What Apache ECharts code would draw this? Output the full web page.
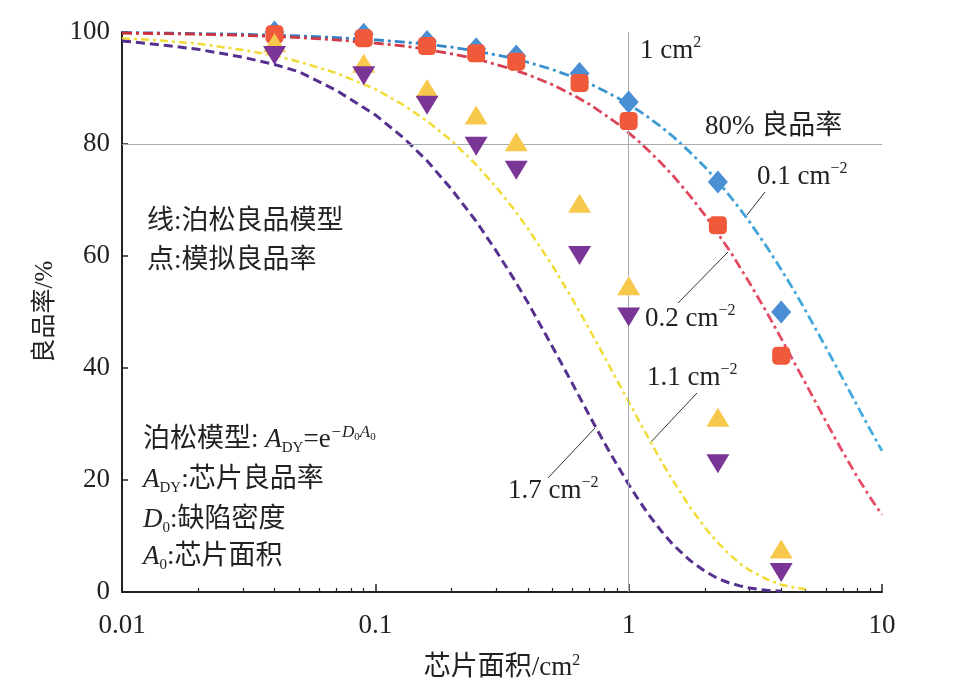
<!DOCTYPE html>
<html><head><meta charset="utf-8">
<script src="https://cdn.jsdelivr.net/npm/echarts@6/dist/echarts.min.js"></script>
<style>html,body{margin:0;padding:0;background:#fff}#c{width:954px;height:700px}</style>
</head><body><div id="c"></div>
<script>
// ---- data ----
const xTickValues = [0.01, 0.1, 1, 10];
const xTickLabels = ['0.01', '0.1', '1', '10'];
const yTickValues = [0, 20, 40, 60, 80, 100];
const minorTickValues = [0.02,0.03,0.04,0.05,0.06,0.07,0.08,0.09,0.2,0.3,0.4,0.5,0.6,0.7,0.8,0.9,2,3,4,5,6,7,8,9];

// Poisson model curves
const curveX = [0.01,0.015,0.02,0.03,0.04,0.05,0.07,0.1,0.13,0.16,0.2,0.25,0.3,0.35,0.4,0.5,0.6,0.7,0.8,0.9,1,1.1,1.2,1.35,1.5,1.75,2,2.25,2.5,2.75,3,3.5,4,4.5,5,6,7,8,9,10];
const curve01 = [99.9,99.8,99.7,99.6,99.4,99.3,99.0,98.6,98.2,97.8,97.3,96.6,95.9,95.3,94.6,93.3,92.0,90.8,89.5,88.3,87.1,85.9,84.7,83.0,81.3,78.5,75.9,73.3,70.8,68.4,66.1,61.7,57.6,53.8,50.2,43.7,38.1,33.2,28.9,25.2];
const curve02 = [99.8,99.7,99.6,99.4,99.2,99.0,98.6,98.0,97.5,96.9,96.1,95.2,94.2,93.3,92.4,90.6,88.8,87.1,85.3,83.7,82.0,80.4,78.8,76.5,74.3,70.7,67.3,64.0,61.0,58.0,55.2,50.0,45.3,41.0,37.2,30.5,25.0,20.5,16.8,13.8];
const curve11 = [98.9,98.4,97.9,96.8,95.8,94.7,92.7,89.8,86.9,84.1,80.6,76.3,72.3,68.5,64.9,58.3,52.3,46.9,42.1,37.8,34.0,30.5,27.4,23.2,19.8,15.1,11.5,8.8,6.7,5.1,3.9,2.3,1.3,0.8,0.5,null,null,null,null,null];
const curve17 = [98.4,97.6,96.9,95.5,94.2,92.9,89.6,85.2,81.0,77.0,71.9,66.2,60.9,56.1,51.7,43.8,37.2,31.5,26.7,22.7,19.2,16.3,13.8,10.8,8.4,5.6,3.7,2.4,1.6,1.1,0.7,0.3,0.15,null,null,null,null,null,null,null];

// simulated yield points
const pointX = [0.04,0.09,0.16,0.25,0.36,0.64,1,2.25,4];
const sim01 = [100,99.6,98.3,97.0,95.7,92.6,87.5,73.2,50.0];
const sim02 = [99.6,98.9,97.5,96.2,94.7,90.9,84.1,65.5,42.2];
const sim11 = [98.1,94.4,89.9,85.2,80.4,69.4,54.7,31.2,7.7];
const sim17 = [95.8,92.2,86.9,79.6,75.3,60.1,49.1,22.9,3.5];

const refYield = 80;
const refArea = 1;

// ---- chart ----
const SERIF = "'Liberation Serif','Times New Roman','Noto Sans CJK SC',serif";
const MIX = "'Liberation Serif','Noto Sans CJK SC',serif";
const TXT = '#222';
const zip = (xs, ys) => xs.map((x, i) => [x, ys[i]]).filter(p => p[1] !== null);

function lineSeries(name, ys, color, width, dash) {
  return {
    name, type: 'line', data: zip(curveX, ys), showSymbol: false, symbol: 'none',
    smooth: false, z: 2, silent: true,
    lineStyle: { color, width, type: dash, cap: 'butt', join: 'round' }
  };
}
function pointSeries(name, ys, symbol, size, color, rotate) {
  return {
    name, type: 'scatter', data: zip(pointX, ys), symbol, symbolSize: size,
    symbolRotate: rotate || 0, z: 5, itemStyle: { color, opacity: 1 }
  };
}

function txt(x, y, text) {
  return {
    type: 'text', x, y, silent: true, z: 10,
    style: {
      text, fill: TXT, fontFamily: MIX, fontSize: 27, lineHeight: 32, verticalAlign: 'middle', align: 'left',
      rich: {
        sup: { fontFamily: SERIF, fontSize: 16, verticalAlign: 'top', lineHeight: 12, fill: TXT },
        i: { fontFamily: SERIF, fontStyle: 'italic', fontSize: 27, lineHeight: 32, fill: TXT },
        sub: { fontFamily: SERIF, fontSize: 15, verticalAlign: 'bottom', lineHeight: 14, fill: TXT },
        si: { fontFamily: SERIF, fontStyle: 'italic', fontSize: 17, verticalAlign: 'top', lineHeight: 12, fill: TXT },
        ss: { fontFamily: SERIF, fontSize: 11, verticalAlign: 'top', lineHeight: 12, padding: [8, 0, 0, 0], fill: TXT }
      }
    }
  };
}

const chart = echarts.init(document.getElementById('c'), null, { renderer: 'canvas' });

const supRich = { sup: { fontFamily: SERIF, fontSize: 16, verticalAlign: 'top', lineHeight: 14, color: TXT } };

const option = {
  backgroundColor: '#fff',
  animation: false,
  grid: { left: 122, right: 72, top: 32, bottom: 108, containLabel: false, outerBoundsMode: 'none' },
  xAxis: [{
    type: 'log', logBase: 10, min: 0.01, max: 10,
    name: '芯片面积/cm{sup|2}', nameLocation: 'middle', nameGap: 61,
    nameTextStyle: { fontFamily: MIX, fontSize: 27, color: TXT, lineHeight: 30, rich: supRich },
    axisLine: { show: true, lineStyle: { color: TXT, width: 2 } },
    axisTick: { show: true, inside: true, length: 8, lineStyle: { color: TXT, width: 1.5 } },
    axisLabel: { margin: 20, fontFamily: SERIF, fontSize: 27, color: TXT,
      formatter: v => { const i = xTickValues.findIndex(t => Math.abs(t - v) / t < 1e-6); return i >= 0 ? xTickLabels[i] : ''; } },
    splitLine: { show: false }
  }, {
    type: 'log', logBase: 10, min: 0.01, max: 10, gridIndex: 0, position: 'bottom',
    axisLine: { show: false },
    axisTick: { show: true, inside: true, length: 4, customValues: minorTickValues, lineStyle: { color: TXT, width: 1.2 } },
    axisLabel: { show: false },
    splitLine: { show: false }
  }],
  yAxis: {
    type: 'value', min: 0, max: 100, interval: 20,
    name: '良品率/%', nameLocation: 'middle', nameGap: 64,
    nameTextStyle: { fontFamily: MIX, fontSize: 25, color: TXT },
    axisLine: { show: true, lineStyle: { color: TXT, width: 2 } },
    axisTick: { show: true, inside: true, length: 6, lineStyle: { color: TXT, width: 1.5 } },
    axisLabel: { margin: 12, fontFamily: SERIF, fontSize: 27, color: TXT },
    splitLine: { show: false }
  },
  series: [
    Object.assign(lineSeries('0.1 cm⁻² 模型', curve01,
      { type: 'linear', x: 0, y: 0, x2: 1, y2: 0, colorStops: [{ offset: 0, color: '#2a6db5' }, { offset: 1, color: '#45aee0' }] }, 2.8, [10, 4, 3, 4]), {
      markLine: {
        silent: true, symbol: 'none', label: { show: false }, animation: false,
        lineStyle: { color: '#a9adb3', width: 1, type: 'solid' },
        data: [{ yAxis: refYield }, { xAxis: refArea }]
      }
    }),
    lineSeries('0.2 cm⁻² 模型', curve02,
      { type: 'linear', x: 0, y: 0, x2: 1, y2: 0, colorStops: [{ offset: 0, color: '#c8303a' }, { offset: 1, color: '#e8506a' }] }, 2.8, [10, 4, 3, 4]),
    lineSeries('1.1 cm⁻² 模型', curve11, '#f1db35', 2.5, [8, 4, 3, 4]),
    lineSeries('1.7 cm⁻² 模型', curve17, '#55308f', 3, [9, 5]),
    pointSeries('0.1 cm⁻² 模拟', sim01, 'diamond', [20, 23], '#4a8fd4'),
    pointSeries('0.2 cm⁻² 模拟', sim02, 'roundRect', [18, 18], '#f05a3a'),
    pointSeries('1.1 cm⁻² 模拟', sim11, 'triangle', [23, 19], '#f7c84c'),
    pointSeries('1.7 cm⁻² 模拟', sim17, 'triangle', [23, 19], '#7a3596', 180)
  ],
  graphic: [
    { type: 'line', silent: true, shape: { x1: 765, y1: 192, x2: 747, y2: 215 }, style: { stroke: '#333', lineWidth: 1 } },
    { type: 'line', silent: true, shape: { x1: 678, y1: 303, x2: 728, y2: 252 }, style: { stroke: '#333', lineWidth: 1 } },
    { type: 'line', silent: true, shape: { x1: 697, y1: 393, x2: 650, y2: 443 }, style: { stroke: '#333', lineWidth: 1 } },
    { type: 'line', silent: true, shape: { x1: 548, y1: 478, x2: 595, y2: 428 }, style: { stroke: '#333', lineWidth: 1 } },
    txt(640, 51, '1 cm{sup|2}'),
    txt(705, 127, '80% 良品率'),
    txt(757, 177, '0.1 cm{sup|−2}'),
    txt(645, 319, '0.2 cm{sup|−2}'),
    txt(647, 378, '1.1 cm{sup|−2}'),
    txt(508, 491, '1.7 cm{sup|−2}'),
    txt(147, 222, '线:泊松良品模型'),
    txt(147, 261, '点:模拟良品率'),
    txt(143, 440, '泊松模型: {i|A}{sub|DY}=e{si|−D}{ss|0}{si|A}{ss|0}'),
    txt(143, 480, '{i|A}{sub|DY}:芯片良品率'),
    txt(143, 520, '{i|D}{sub|0}:缺陷密度'),
    txt(143, 557, '{i|A}{sub|0}:芯片面积')
  ]
};

chart.setOption(option);
</script>
</body></html>
